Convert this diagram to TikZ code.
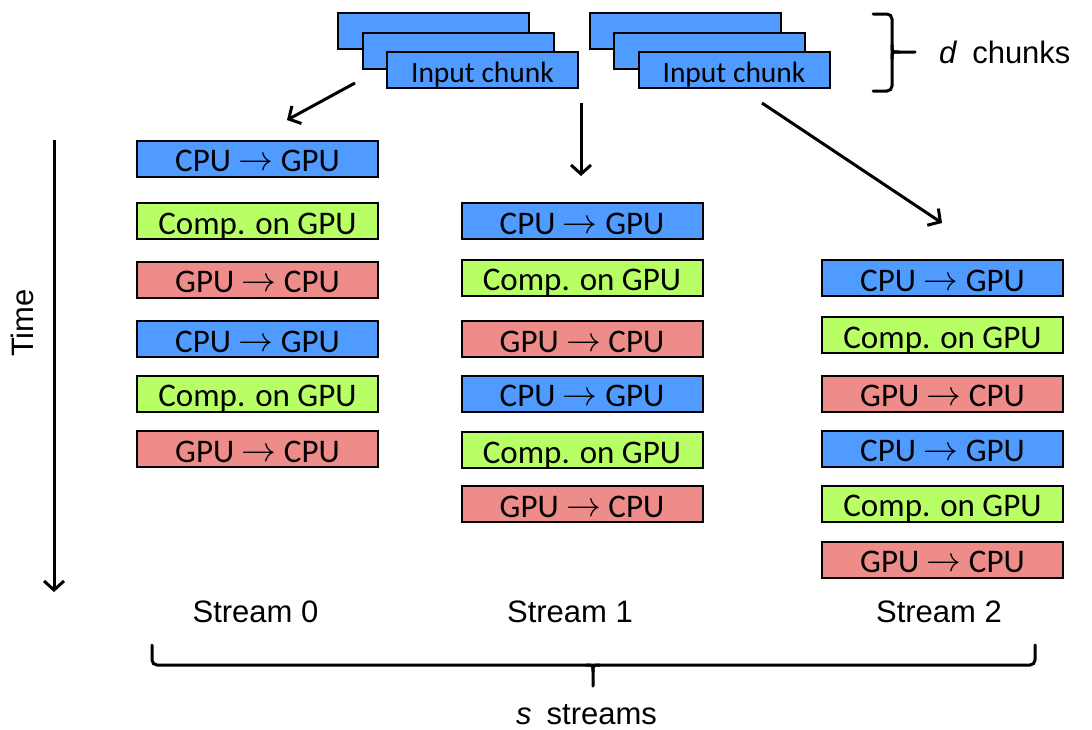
\documentclass[tikz,border=0pt]{standalone}
\usepackage{graphicx}
\usepackage{fontspec}
\setmainfont{Carlito}
\newfontfamily\labelfont{Liberation Sans}
\usetikzlibrary{arrows.meta}

\definecolor{xferblue}{RGB}{79,155,255}
\definecolor{compgreen}{RGB}{183,255,100}
\definecolor{backred}{RGB}{238,140,138}

\newcommand{\xarr}{\raisebox{1pt}{\scalebox{1.4}{$\rightarrow$}}}
\newcommand{\htod}{CPU \xarr{} GPU}
\newcommand{\dtoh}{GPU \xarr{} CPU}
\newcommand{\comp}{Comp. on GPU}

\begin{document}
\begin{tikzpicture}[x=1pt,y=-1pt,
  opbox/.style={draw=black, line width=2pt, minimum width=241pt, minimum height=36pt,
    inner sep=0pt, text height=26pt, text depth=0pt, font=\fontsize{33}{38}\selectfont},
  htodbox/.style={opbox, fill=xferblue},
  compbox/.style={opbox, fill=compgreen},
  dtohbox/.style={opbox, fill=backred},
  chunkbox/.style={draw=black, line width=2pt, fill=xferblue, minimum width=191pt,
    minimum height=36pt, inner sep=0pt, text height=24pt, text depth=0pt,
    font=\fontsize{29.5}{34}\selectfont},
  flow/.style={line width=3pt, -{Straight Barb[length=9pt,width=20pt]}},
  bracepath/.style={line width=3pt, line cap=round},
  lbl/.style={font=\labelfont\fontsize{31}{36}\selectfont, inner sep=0pt}]

\useasboundingbox (0,0) rectangle (1092,729);

% input chunks, two stacks of three
\node[chunkbox] (c1a) at (433.5,31) {};
\node[chunkbox] (c1b) at (458,51) {};
\node[chunkbox] (c1c) at (482.5,70) {Input chunk};
\node[chunkbox] (c2a) at (685.5,31) {};
\node[chunkbox] (c2b) at (709.5,51) {};
\node[chunkbox] (c2c) at (734,70) {Input chunk};

% d chunks brace
\draw[bracepath, rounded corners=5pt] (873,14) -- (892,14) -- (892,91) -- (873,91);
\draw[bracepath] (892,45) .. controls (892,52) .. (899,52) -- (915,52);
\draw[bracepath] (892,59) .. controls (892,52) .. (899,52);
\node[lbl, anchor=base west] (dlbl) at (939,63) {\textit{d}\hspace{15pt}chunks};

% stream 0
\node[htodbox] (s0a) at (257.5,158.5) {\htod};
\node[compbox] (s0b) at (257.5,221) {\comp};
\node[dtohbox] (s0c) at (257.5,279.5) {\dtoh};
\node[htodbox] (s0d) at (257.5,339) {\htod};
\node[compbox] (s0e) at (257.5,393.5) {\comp};
\node[dtohbox] (s0f) at (257.5,449) {\dtoh};

% stream 1
\node[htodbox] (s1a) at (582,221) {\htod};
\node[compbox] (s1b) at (582,277.5) {\comp};
\node[dtohbox] (s1c) at (582,339) {\dtoh};
\node[htodbox] (s1d) at (582,393.5) {\htod};
\node[compbox] (s1e) at (582,450) {\comp};
\node[dtohbox] (s1f) at (582,504) {\dtoh};

% stream 2
\node[htodbox] (s2a) at (942.5,278) {\htod};
\node[compbox] (s2b) at (942.5,335) {\comp};
\node[dtohbox] (s2c) at (942.5,393.5) {\dtoh};
\node[htodbox] (s2d) at (942.5,448.5) {\htod};
\node[compbox] (s2e) at (942.5,503.5) {\comp};
\node[dtohbox] (s2f) at (942.5,559.5) {\dtoh};

% dispatch arrows from the chunks to the streams
\coordinate (from0) at (355,83);
\coordinate (to0) at (287,120);
\coordinate (from1) at (581,103);
\coordinate (to1) at (581,176);
\coordinate (from2) at (762,103);
\coordinate (to2) at (942,223);
\draw[flow] (from0) -- (to0);
\draw[flow] (from1) -- (to1);
\draw[flow] (from2) -- (to2);

% time axis
\coordinate (tstart) at (54,140);
\coordinate (tend) at (54,592);
\draw[flow] (tstart) -- (tend);
\node[lbl, rotate=90] (timelbl) at (22,323) {Time};

% stream labels
\node[lbl, anchor=base] (l0) at (255.5,622) {Stream 0};
\node[lbl, anchor=base] (l1) at (570,622) {Stream 1};
\node[lbl, anchor=base] (l2) at (939,622) {Stream 2};

% s streams brace
\draw[bracepath, rounded corners=5pt] (152,645) -- (152,665) -- (1035,665) -- (1035,645);
\draw[bracepath] (586,665) .. controls (593,665) .. (593,672) -- (593,686);
\draw[bracepath] (600,665) .. controls (593,665) .. (593,672);
\node[lbl, anchor=base west] (slbl) at (516,724) {\textit{s}\hspace{15pt}streams};

\end{tikzpicture}
\end{document}
